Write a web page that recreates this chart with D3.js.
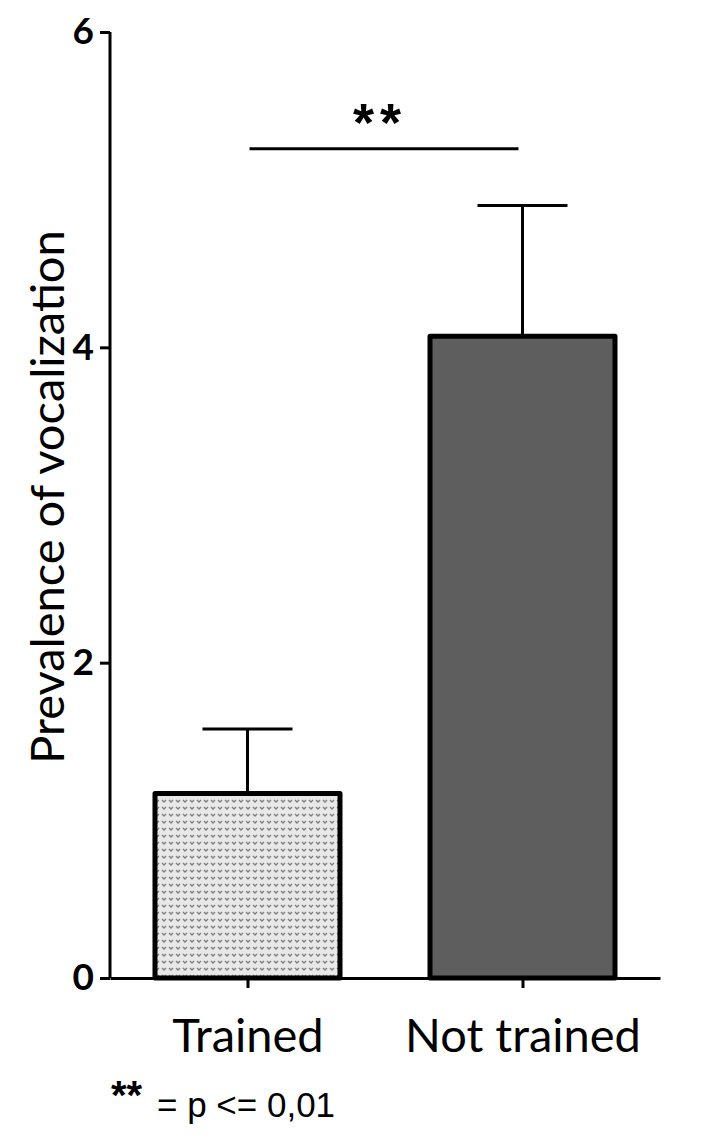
<!DOCTYPE html>
<meta charset="utf-8">
<style>
  body { margin: 0; background: #fff; }
  .axis path, .axis line { stroke: #000; stroke-width: 3; }
  .axis text { font-family: Lato, sans-serif; font-weight: bold; font-size: 37px; fill: #000; }
  .cat text { font-family: Lato, sans-serif; font-size: 47px; font-weight: normal; }
</style>
<body>
<svg id="chart"></svg>
<script src="https://cdnjs.cloudflare.com/ajax/libs/d3/7.8.5/d3.min.js"></script>
<script>
var categories = ["Trained", "Not trained"];
var means = [1.17, 4.07];
var errors = [0.41, 0.83];
var yTicks = [0, 2, 4, 6];
var sigLevel = 5.26;
var sigLabel = "**";
var footnote = "= p <= 0,01";

var width = 717, height = 1146;

var svg = d3.select("#chart")
    .attr("width", width)
    .attr("height", height);

var y = d3.scaleLinear()
    .domain([0, 6])
    .range([978, 32]);

var x = d3.scalePoint()
    .domain(categories)
    .range([110, 660])
    .padding(0.5);

var barWidth = 185;

// dotted fill for the first bar
var defs = svg.append("defs");
var pat = defs.append("pattern")
    .attr("id", "dots")
    .attr("width", 7)
    .attr("height", 7)
    .attr("patternUnits", "userSpaceOnUse");
pat.append("rect").attr("width", 7).attr("height", 7).attr("fill", "#e8e8e8");
pat.append("path")
    .attr("d", "M1,2 L3,4 L5,2")
    .attr("fill", "none")
    .attr("stroke", "#7e7e7e")
    .attr("stroke-width", 1.3);

var fills = ["url(#dots)", "#5e5e5e"];

var data = categories.map(function(c, i) {
  return { cat: c, mean: means[i], err: errors[i], fill: fills[i] };
});

// error bars (drawn first so bar outline sits on top)
var eb = svg.append("g").attr("class", "errorbars")
    .attr("stroke", "#000")
    .attr("stroke-width", 3);
eb.selectAll(".stem").data(data).enter().append("line")
    .attr("x1", function(d) { return x(d.cat); })
    .attr("x2", function(d) { return x(d.cat); })
    .attr("y1", function(d) { return y(d.mean); })
    .attr("y2", function(d) { return y(d.mean + d.err); });
eb.selectAll(".cap").data(data).enter().append("line")
    .attr("x1", function(d) { return x(d.cat) - 45; })
    .attr("x2", function(d) { return x(d.cat) + 45; })
    .attr("y1", function(d) { return y(d.mean + d.err); })
    .attr("y2", function(d) { return y(d.mean + d.err); });

// bars
svg.selectAll(".bar").data(data).enter().append("rect")
    .attr("class", "bar")
    .attr("x", function(d) { return x(d.cat) - barWidth / 2; })
    .attr("width", barWidth)
    .attr("y", function(d) { return y(d.mean); })
    .attr("height", function(d) { return y(0) - y(d.mean); })
    .attr("fill", function(d) { return d.fill; })
    .attr("stroke", "#000")
    .attr("stroke-width", 5)
    .attr("stroke-linejoin", "round");

// y axis
var yAxis = svg.append("g")
    .attr("class", "axis")
    .attr("transform", "translate(110,0)")
    .call(d3.axisLeft(y).tickValues(yTicks).tickFormat(d3.format("d"))
      .tickSize(10).tickSizeOuter(0).tickPadding(6));
yAxis.select(".domain").attr("d", "M0," + y(6) + "V" + y(0));

// x axis
var xAxis = svg.append("g")
    .attr("class", "axis cat")
    .attr("transform", "translate(0," + y(0) + ")")
    .call(d3.axisBottom(x).tickSize(10).tickSizeOuter(0).tickPadding(31));
xAxis.selectAll("text").style("font-weight", "normal").style("font-size", "47px");

// y axis title
svg.append("text")
    .attr("transform", "translate(64," + 497 + ") rotate(-90)")
    .attr("text-anchor", "middle")
    .style("font-family", "Lato, sans-serif")
    .style("font-size", "47px")
    .text("Prevalence of vocalization");

// significance bracket
svg.append("line")
    .attr("x1", x(categories[0]) + 2)
    .attr("x2", x(categories[1]) - 4)
    .attr("y1", y(sigLevel))
    .attr("y2", y(sigLevel))
    .attr("stroke", "#000")
    .attr("stroke-width", 3);
svg.append("text")
    .attr("x", 377 + 3)
    .attr("y", y(sigLevel) - 8)
    .attr("text-anchor", "middle")
    .style("font-family", "'Liberation Sans', Arial, sans-serif")
    .style("font-weight", "bold")
    .style("font-size", "54px")
    .style("letter-spacing", "6px")
    .text(sigLabel);

// footnote
svg.append("text")
    .attr("x", 111)
    .attr("y", 1109)
    .style("font-family", "'Liberation Sans', Arial, sans-serif")
    .style("font-weight", "bold")
    .style("font-size", "40px")
    .text(sigLabel);
svg.append("text")
    .attr("x", 157)
    .attr("y", 1117)
    .style("font-family", "'Liberation Sans', Arial, sans-serif")
    .style("font-size", "35px")
    .text(footnote);
</script>
</body>
